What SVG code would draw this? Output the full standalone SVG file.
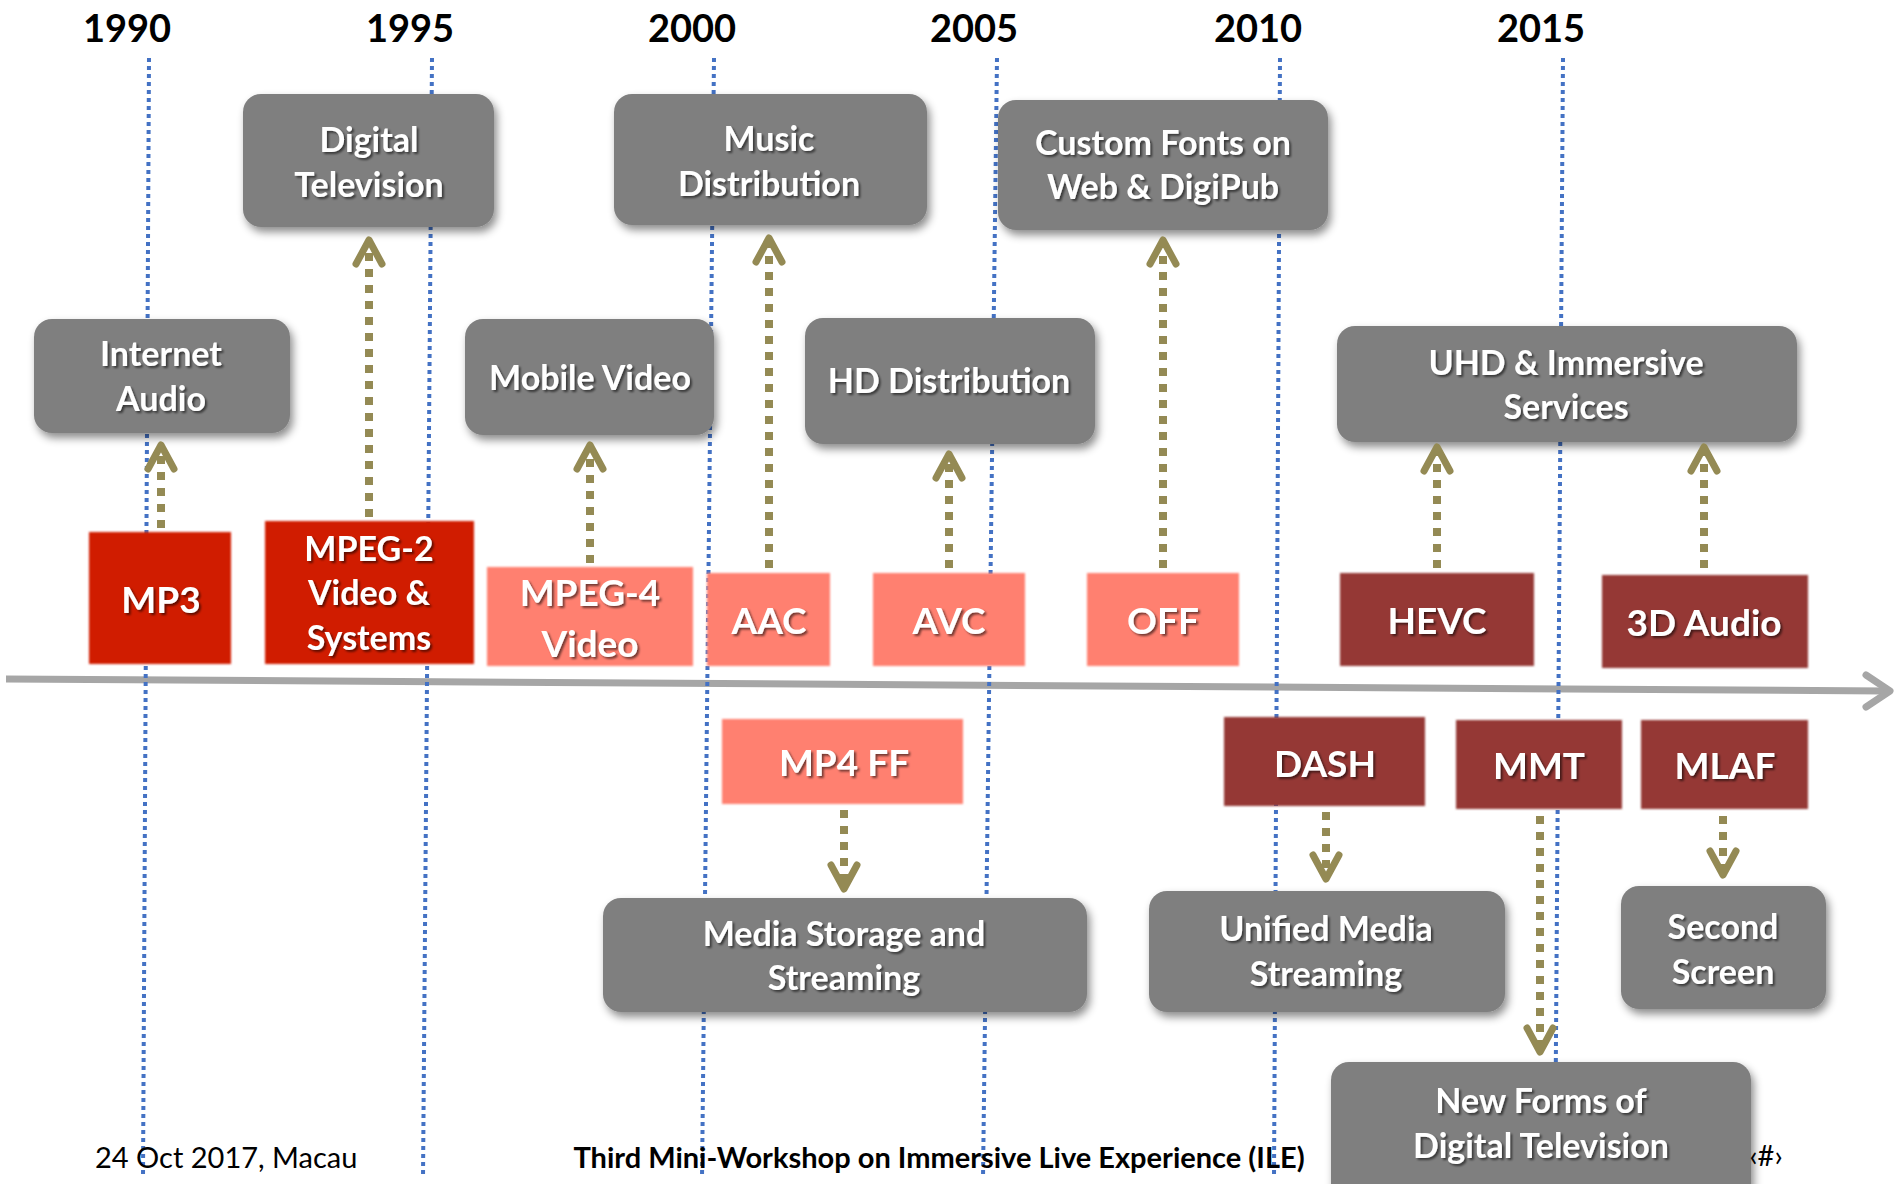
<svg xmlns="http://www.w3.org/2000/svg" width="1895" height="1184" viewBox="0 0 1895 1184">
<defs>
<filter id="bsh" x="-20%" y="-20%" width="140%" height="150%">
<feDropShadow dx="3" dy="5" stdDeviation="4" flood-color="#000" flood-opacity="0.45"/>
</filter>
<filter id="soft" x="-5%" y="-5%" width="110%" height="110%">
<feGaussianBlur stdDeviation="1.2"/>
</filter>
<filter id="tsh" x="-10%" y="-20%" width="120%" height="150%">
<feDropShadow dx="2" dy="2" stdDeviation="1.2" flood-color="#000" flood-opacity="0.55"/>
</filter>
</defs>
<style>
.year{font-family:Lato,"Liberation Sans",sans-serif;font-weight:700;font-size:38px;fill:#000;text-anchor:middle}
.grid{stroke:#4472c4;stroke-width:4;stroke-dasharray:4 4;fill:none}
.gbox{fill:#7f7f7f;filter:url(#bsh)}
.r1{fill:#d01c00;filter:url(#soft)}
.r2{fill:#ff8070;filter:url(#soft)}
.r3{fill:#953735;filter:url(#soft)}
.lbl{font-family:Lato,"Liberation Sans",sans-serif;font-weight:700;font-size:34px;fill:#fff;text-anchor:middle;filter:url(#tsh)}
.big{font-size:37px}
.con{stroke:#948a54;stroke-width:8;stroke-dasharray:8 8;fill:none}
.head{stroke:#948a54;stroke-width:7;fill:none;stroke-linecap:round;stroke-linejoin:round}
.foot{font-family:Lato,"Liberation Sans",sans-serif;font-size:29px;fill:#000}
</style>

<g id="axis">
<line x1="6" y1="679" x2="1886" y2="691" stroke="#a6a6a6" stroke-width="7"/>
<polyline points="1866,675 1890,691 1866,707" stroke="#a6a6a6" stroke-width="7" fill="none" stroke-linecap="round" stroke-linejoin="round"/>
</g>

<g id="years">
<text class="year" x="127" y="42">1990</text>
<text class="year" x="410" y="42">1995</text>
<text class="year" x="692" y="42">2000</text>
<text class="year" x="974" y="42">2005</text>
<text class="year" x="1258" y="42">2010</text>
<text class="year" x="1541" y="42">2015</text>
</g>

<g id="gridlines">
<line class="grid" x1="149" y1="58" x2="143" y2="1178"/>
<line class="grid" x1="432" y1="58" x2="423" y2="1178"/>
<line class="grid" x1="714" y1="58" x2="702" y2="1178"/>
<line class="grid" x1="997" y1="58" x2="983" y2="1178"/>
<line class="grid" x1="1280" y1="58" x2="1274" y2="1178"/>
<line class="grid" x1="1563" y1="58" x2="1555" y2="1178"/>
</g>

<g id="n-internet-audio"><rect class="gbox" x="34" y="319" width="256" height="114" rx="18"/><text class="lbl" x="161" y="366">Internet</text><text class="lbl" x="161" y="411">Audio</text></g>
<g id="n-digital-tv"><rect class="gbox" x="243" y="94" width="251" height="133" rx="18"/><text class="lbl" x="369" y="152">Digital</text><text class="lbl" x="369" y="197">Television</text></g>
<g id="n-music"><rect class="gbox" x="614" y="94" width="313" height="131" rx="18"/><text class="lbl" x="769" y="151">Music</text><text class="lbl" x="769" y="196">Distribution</text></g>
<g id="n-custom-fonts"><rect class="gbox" x="998" y="100" width="330" height="130" rx="18"/><text class="lbl" x="1163" y="155">Custom Fonts on</text><text class="lbl" x="1163" y="199">Web &amp; DigiPub</text></g>
<g id="n-mobile-video"><rect class="gbox" x="465" y="319" width="249" height="116" rx="18"/><text class="lbl" x="590" y="390">Mobile Video</text></g>
<g id="n-hd"><rect class="gbox" x="805" y="318" width="290" height="126" rx="18"/><text class="lbl" x="949" y="393">HD Distribution</text></g>
<g id="n-uhd"><rect class="gbox" x="1337" y="326" width="460" height="116" rx="18"/><text class="lbl" x="1566" y="375">UHD &amp; Immersive</text><text class="lbl" x="1566" y="419">Services</text></g>
<g id="n-media-storage"><rect class="gbox" x="603" y="898" width="484" height="114" rx="18"/><text class="lbl" x="844" y="946">Media Storage and</text><text class="lbl" x="844" y="990">Streaming</text></g>
<g id="n-unified"><rect class="gbox" x="1149" y="891" width="356" height="121" rx="18"/><text class="lbl" x="1326" y="941">Unified Media</text><text class="lbl" x="1326" y="986">Streaming</text></g>
<g id="n-second-screen"><rect class="gbox" x="1621" y="886" width="205" height="123" rx="18"/><text class="lbl" x="1723" y="939">Second</text><text class="lbl" x="1723" y="984">Screen</text></g>
<g id="n-new-forms"><rect class="gbox" x="1331" y="1062" width="420" height="140" rx="18"/><text class="lbl" x="1541" y="1113">New Forms of</text><text class="lbl" x="1541" y="1158">Digital Television</text></g>

<g id="n-mp3"><rect class="r1" x="89" y="532" width="142" height="132"/><text class="lbl big" x="161" y="613">MP3</text></g>
<g id="n-mpeg2"><rect class="r1" x="265" y="521" width="209" height="143"/><text class="lbl" x="369" y="561">MPEG-2</text><text class="lbl" x="369" y="605">Video &amp;</text><text class="lbl" x="369" y="650">Systems</text></g>
<g id="n-mpeg4"><rect class="r2" x="487" y="567" width="206" height="99"/><text class="lbl big" x="590" y="606">MPEG-4</text><text class="lbl big" x="590" y="657">Video</text></g>
<g id="n-aac"><rect class="r2" x="707" y="573" width="123" height="93"/><text class="lbl big" x="769" y="634">AAC</text></g>
<g id="n-avc"><rect class="r2" x="873" y="573" width="152" height="93"/><text class="lbl big" x="949" y="634">AVC</text></g>
<g id="n-off"><rect class="r2" x="1087" y="573" width="152" height="93"/><text class="lbl big" x="1163" y="634">OFF</text></g>
<g id="n-hevc"><rect class="r3" x="1340" y="573" width="194" height="93"/><text class="lbl big" x="1437" y="634">HEVC</text></g>
<g id="n-3daudio"><rect class="r3" x="1602" y="575" width="206" height="93"/><text class="lbl big" x="1704" y="636">3D Audio</text></g>
<g id="n-mp4ff"><rect class="r2" x="722" y="719" width="241" height="85"/><text class="lbl big" x="844" y="776">MP4 FF</text></g>
<g id="n-dash"><rect class="r3" x="1224" y="717" width="201" height="89"/><text class="lbl big" x="1325" y="777">DASH</text></g>
<g id="n-mmt"><rect class="r3" x="1456" y="720" width="166" height="89"/><text class="lbl big" x="1539" y="779">MMT</text></g>
<g id="n-mlaf"><rect class="r3" x="1641" y="720" width="167" height="89"/><text class="lbl big" x="1725" y="779">MLAF</text></g>

<g id="connectors">
<line class="con" x1="161" y1="528" x2="161" y2="452"/><polyline class="head" points="148,469 161,445 174,469"/>
<line class="con" x1="369" y1="517" x2="369" y2="247"/><polyline class="head" points="356,264 369,240 382,264"/>
<line class="con" x1="590" y1="563" x2="590" y2="452"/><polyline class="head" points="577,469 590,445 603,469"/>
<line class="con" x1="769" y1="568" x2="769" y2="245"/><polyline class="head" points="756,262 769,238 782,262"/>
<line class="con" x1="949" y1="568" x2="949" y2="461"/><polyline class="head" points="936,478 949,454 962,478"/>
<line class="con" x1="1163" y1="568" x2="1163" y2="247"/><polyline class="head" points="1150,264 1163,240 1176,264"/>
<line class="con" x1="1437" y1="568" x2="1437" y2="454"/><polyline class="head" points="1424,471 1437,447 1450,471"/>
<line class="con" x1="1704" y1="568" x2="1704" y2="454"/><polyline class="head" points="1691,471 1704,447 1717,471"/>
<line class="con" x1="844" y1="810" x2="844" y2="882"/><polyline class="head" points="831,865 844,889 857,865"/>
<line class="con" x1="1326" y1="812" x2="1326" y2="872"/><polyline class="head" points="1313,855 1326,879 1339,855"/>
<line class="con" x1="1540" y1="816" x2="1540" y2="1045"/><polyline class="head" points="1527,1028 1540,1052 1553,1028"/>
<line class="con" x1="1723" y1="816" x2="1723" y2="868"/><polyline class="head" points="1710,851 1723,875 1736,851"/>
</g>

<g id="footer">
<text class="foot" x="95" y="1168">24 Oct 2017, Macau</text>
<text class="foot" x="939" y="1168" text-anchor="middle" font-weight="700">Third Mini-Workshop on Immersive Live Experience (ILE)</text>
<text class="foot" x="1766" y="1166" text-anchor="middle" font-size="22">‹#›</text>
</g>
</svg>
